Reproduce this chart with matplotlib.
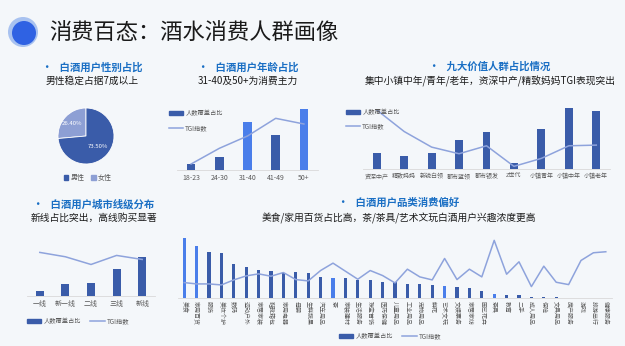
import numpy as np
import matplotlib
matplotlib.use('Agg')
import matplotlib.pyplot as plt
from matplotlib.patches import Circle, Patch
from matplotlib.lines import Line2D

plt.rcParams['font.family'] = ['Noto Sans CJK SC', 'DejaVu Sans']

# ---- data ----
gender_labels = ['女性', '男性']
gender_share = [26.4, 73.5]

age_groups = ['18-23', '24-30', '31-40', '41-49', '50+']
age_share = [1.7, 4.0, 14.5, 10.4, 18.2]
age_tgi = [18, 65, 102, 155, 138]
age_highlight = [False, False, True, False, True]

crowd_groups = ['资深中产', '精致妈妈', '新锐白领', '都市蓝领', '都市银发', 'Z世代', '小镇青年', '小镇中年', '小镇老年']
crowd_share = [4.8, 3.9, 4.9, 8.6, 11.1, 1.7, 12.0, 18.3, 17.6]
crowd_tgi = [178, 113, 66, 46, 70, 8, 32, 70, 72]

city_tiers = ['一线', '新一线', '二线', '三线', '新线']
city_share = [1.5, 3.6, 3.9, 8.1, 11.7]
city_tgi = [130, 117, 94, 121, 109]

cat_names = ['美食', '家用百货', '服饰', '美妆个护', '数码', '运动户外', '家居家装', '鞋靴箱包',
             '家用电器', '母婴', '生鲜蔬果', '汽车用品', '茶', '家装建材', '生活服务', '珠宝首饰',
             '医药保健', '儿童用品', '工业用品', '宠物用品', '鲜花', '艺术文玩', '文娱票务', '家居家纺',
             '园艺花卉', '茶具', '教育', '二手', '成人用品', '保险', '文具用品', '房产服务',
             '游戏', '旅游出行', '健康服务']
cat_share = [17.8, 15.4, 13.6, 13.4, 10.0, 9.2, 8.4, 8.0, 7.6, 7.7, 7.4, 6.2, 6.1, 6.0, 5.4, 5.3,
             4.9, 4.7, 4.3, 4.1, 3.9, 3.7, 3.2, 2.9, 2.1, 1.3, 1.0, 0.8, 0.4, 0.2, 0.2, 0.1,
             0.0, 0.0, 0.0]
cat_tgi = [46, 42, 42, 39, 54, 66, 72, 65, 76, 55, 51, 82, 104, 80, 56, 82, 67, 45, 86, 63, 54,
           118, 55, 86, 63, 172, 71, 108, 34, 95, 47, 40, 112, 135, 138]
cat_highlight = ['美食', '家用百货', '茶', '艺术文玩', '茶具']

# ---- style ----
BG = '#f4f7fa'
DARK = '#3a5ca9'
BRIGHT = '#4a7eea'
LIGHT = '#8d9fd4'
LINE = '#8ea3dc'
HEAD = '#1a6fc4'
TICK = '#595959'

W, H = 625, 346
fig = plt.figure(figsize=(W / 100, H / 100), dpi=100, facecolor=BG)


def px_axes(l, t, r, b):
    return fig.add_axes([l / W, 1 - b / H, (r - l) / W, (b - t) / H])


def fx(x):
    return x / W


def fy(y):
    return 1 - y / H


def header(cx, y1, y2, title, sub):
    fig.text(fx(cx), fy(y1), '•   ' + title, color=HEAD, fontsize=7.5, fontweight='bold',
             ha='center', va='center')
    fig.text(fx(cx), fy(y2), sub, color='#1a1a1a', fontsize=7, ha='center', va='center')


def combo(ax, labels, share, tgi, colors, ymax, width, fs=5):
    x = np.arange(len(labels))
    ax.set_facecolor('none')
    ax.bar(x, share, width=width, color=colors)
    ax.set_xlim(-0.5, len(labels) - 0.5)
    ax.set_ylim(0, ymax)
    ax.set_yticks([])
    ax.set_xticks(x)
    for s in ['top', 'left', 'right']:
        ax.spines[s].set_visible(False)
    ax.spines['bottom'].set_color('#d9d9d9')
    ax.spines['bottom'].set_linewidth(0.6)
    ax.tick_params(axis='x', length=0, pad=3, labelsize=fs, labelcolor=TICK)
    ax2 = ax.twinx()
    ax2.plot(x, tgi, color=LINE, lw=1.1)
    ax2.set_ylim(0, ymax * 10)
    ax2.axis('off')
    return x


def handles():
    return [Patch(color=DARK), Line2D([], [], color=LINE, lw=1.1)]


leg_kw = dict(frameon=False, fontsize=4.5, labelcolor=TICK, handlelength=2.3, handleheight=0.6,
              handletextpad=0.3, borderaxespad=0, borderpad=0)

# ---- title ----
ax_t = fig.add_axes([0, 0, 1, 1], facecolor='none')
ax_t.set_xlim(0, W)
ax_t.set_ylim(H, 0)
ax_t.axis('off')
ax_t.set_aspect('equal')
ax_t.add_patch(Circle((23, 32), 15, color='#a8c2f0', lw=0))
ax_t.add_patch(Circle((24, 33), 12, color='#2f62e3', lw=0))
fig.text(fx(49), fy(32), '消费百态：酒水消费人群画像', fontsize=16, color='#1a1a1a', va='center')

# ---- gender pie ----
header(92, 68, 81, '白酒用户性别占比', '男性稳定占据7成以上')
ax_p = px_axes(51, 101, 121, 171)
wedges, _ = ax_p.pie(gender_share, colors=[LIGHT, DARK], startangle=90,
                     wedgeprops=dict(edgecolor='white', linewidth=0.6))
ax_p.set_aspect('equal')
for w, v, r in zip(wedges, gender_share, [0.66, 0.56]):
    ang = np.deg2rad((w.theta1 + w.theta2) / 2)
    ax_p.text(r * np.cos(ang), r * np.sin(ang), f'{v:.2f}%', color='white', fontsize=4.3,
              ha='center', va='center')
fig.legend([Patch(color=DARK), Patch(color=LIGHT)], ['男性', '女性'], loc='center',
           bbox_to_anchor=(fx(88), fy(178)), ncol=2, frameon=False, fontsize=5, labelcolor=TICK,
           handlelength=0.6, handleheight=0.6, handletextpad=0.3, columnspacing=1.0)

# ---- age ----
header(248, 67, 81, '白酒用户年龄占比', '31-40及50+为消费主力')
ax_a = px_axes(177, 100, 318, 170)
colors = [BRIGHT if h else DARK for h in age_highlight]
combo(ax_a, age_groups, age_share, age_tgi, colors, 21, 0.31)
ax_a.set_xticklabels(age_groups)
fig.legend(handles(), ['人数覆盖占比', 'TGI指数'], loc='upper left',
           bbox_to_anchor=(fx(169), fy(109)), labelspacing=1.2, **leg_kw)

# ---- nine crowds ----
header(490, 67, 81, '九大价值人群占比情况', '集中小镇中年/青年/老年，资深中产/精致妈妈TGI表现突出')
ax_n = px_axes(363, 100, 610, 169)
combo(ax_n, crowd_groups, crowd_share, crowd_tgi, DARK, 20.8, 0.29, fs=4.3)
ax_n.set_xticklabels(crowd_groups)
fig.legend(handles(), ['人数覆盖占比', 'TGI指数'], loc='upper left',
           bbox_to_anchor=(fx(346), fy(108)), labelspacing=1.0, **leg_kw)

# ---- city tiers ----
header(94, 204, 218, '白酒用户城市线级分布', '新线占比突出，高线购买显著')
ax_c = px_axes(27, 240, 155, 296)
combo(ax_c, city_tiers, city_share, city_tgi, DARK, 16.7, 0.31)
ax_c.set_xticklabels(city_tiers)
fig.legend(handles(), ['人数覆盖占比', 'TGI指数'], loc='center',
           bbox_to_anchor=(fx(78), fy(321)), ncol=2, columnspacing=1.5, **leg_kw)

# ---- categories ----
header(399, 203, 218, '白酒用户品类消费偏好', '美食/家用百货占比高，茶/茶具/艺术文玩白酒用户兴趣浓度更高')
ax_g = px_axes(178, 235, 612, 298)
colors = [BRIGHT if c in cat_highlight else DARK for c in cat_names]
combo(ax_g, cat_names, cat_share, cat_tgi, colors, 18.8, 0.27, fs=4.3)
ax_g.set_xticklabels(cat_names, rotation=-90)
ax_g.tick_params(axis='x', pad=2)
fig.legend(handles(), ['人数覆盖占比', 'TGI指数'], loc='center',
           bbox_to_anchor=(fx(390), fy(336)), ncol=2, columnspacing=1.5, **leg_kw)

fig.savefig('out.png', dpi=100, facecolor=BG)
